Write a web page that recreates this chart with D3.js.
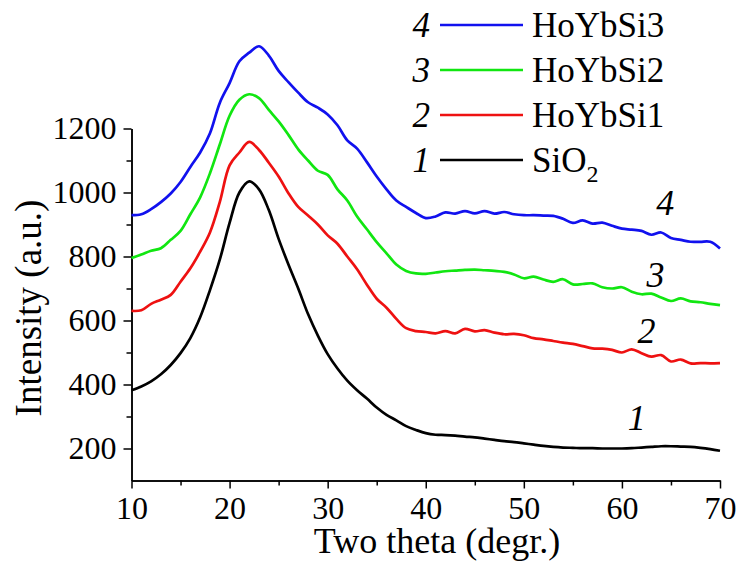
<!DOCTYPE html>
<html>
<head>
<meta charset="utf-8">
<script src="https://cdn.jsdelivr.net/npm/d3@7"></script>
<style>
body { margin: 0; background: #fff; }
svg text { font-family: "Liberation Serif", "Times New Roman", Times, serif; fill: #000; }
</style>
</head>
<body>
<div id="chart"></div>
<script>
// two theta (deg), one reading per degree
var twoTheta = [10,11,12,13,14,15,16,17,18,19,20,21,22,23,24,25,26,27,28,29,
	30,31,32,33,34,35,36,37,38,39,40,41,42,43,44,45,46,47,48,49,
	50,51,52,53,54,55,56,57,58,59,60,61,62,63,64,65,66,67,68,69,70];

// intensities (a.u.)
var sio2 = [382,394,410,432,461,498,545,610,695,790,905,1000,1035,1010,945,855,775,700,620,553,
	495,450,412,382,356,328,305,288,270,258,248,243,242,240,237,235,231,227,223,220,
	216,212,208,205,203,202,201,201,200,200,200,201,203,205,207,207,206,205,202,198,193];
var hoybsi1 = [630,632,652,665,680,721,763,815,875,970,1085,1125,1158,1133,1093,1050,998,955,928,900,
	866,840,800,760,712,668,640,605,576,567,564,560,567,560,574,566,570,562,557,558,
	554,545,541,536,531,527,520,513,512,508,500,510,498,487,492,472,478,466,467,466,467];
var hoybsi2 = [795,806,818,826,852,880,932,985,1060,1150,1240,1290,1307,1295,1258,1222,1180,1135,1100,1068,
	1055,1010,975,925,885,845,810,775,755,747,746,750,754,756,758,759,757,755,752,744,
	732,737,728,721,729,713,714,716,704,700,704,690,682,684,672,661,669,660,657,652,648];
var hoybsi3 = [929,932,948,970,997,1033,1080,1125,1185,1280,1342,1410,1437,1457,1428,1380,1345,1312,1282,1265,
	1244,1210,1163,1137,1095,1050,1010,975,955,936,920,925,938,934,942,935,942,934,939,932,
	929,929,928,927,918,905,913,903,906,896,887,884,880,868,875,858,852,846,846,846,825];

var seriesNames = ["SiO", "HoYbSi1", "HoYbSi2", "HoYbSi3"];
var seriesNums = ["1", "2", "3", "4"];
var seriesColors = ["#000000", "#ee1111", "#11e611", "#1111ee"];
var xTicks = [10, 20, 30, 40, 50, 60, 70];
var yTicks = [200, 400, 600, 800, 1000, 1200];
// where the italic numbers sit next to the curves (data units)
var labelX = [60.6, 61.6, 62.5, 63.5];
var labelY = [257, 529, 704, 929];

var allSeries = [sio2, hoybsi1, hoybsi2, hoybsi3];

var svg = d3.select("#chart").append("svg")
	.attr("width", 736)
	.attr("height", 572);

var x = d3.scaleLinear().domain([10, 70]).range([131.5, 720]);
var y = d3.scaleLinear().domain([100, 1200]).range([480.5, 128.5]);

// minor ticks first, then the labelled axes
svg.append("g")
	.attr("transform", "translate(0,480.5)")
	.call(d3.axisBottom(x).tickValues(d3.range(15, 70, 10)).tickSize(5).tickSizeOuter(0).tickFormat(""));
svg.append("g")
	.attr("transform", "translate(131.5,0)")
	.call(d3.axisLeft(y).tickValues(d3.range(300, 1200, 200)).tickSize(5).tickSizeOuter(0).tickFormat(""));

var gx = svg.append("g")
	.attr("transform", "translate(0,480.5)")
	.call(d3.axisBottom(x).tickValues(xTicks).tickSize(8).tickSizeOuter(0).tickPadding(8).tickFormat(d3.format("d")));
var gy = svg.append("g")
	.attr("transform", "translate(131.5,0)")
	.call(d3.axisLeft(y).tickValues(yTicks).tickSize(8).tickSizeOuter(0).tickPadding(7).tickFormat(d3.format("d")));

svg.selectAll("g").attr("font-family", null).attr("font-size", null);
svg.selectAll(".domain, .tick line").attr("stroke", "#000").attr("stroke-width", 1.5);
gx.selectAll("text").style("font-size", "32px");
gy.selectAll("text").style("font-size", "32px");

// axis titles
svg.append("text")
	.attr("x", 437).attr("y", 553)
	.attr("text-anchor", "middle")
	.style("font-size", "36px")
	.text("Two theta (degr.)");
svg.append("text")
	.attr("transform", "translate(41,308) rotate(-90)")
	.attr("text-anchor", "middle")
	.style("font-size", "37px")
	.text("Intensity (a.u.)");

// curves
var line = d3.line()
	.x(function(d, i) { return x(twoTheta[i]); })
	.y(function(d) { return y(d); })
	.curve(d3.curveCatmullRom.alpha(0.5));

svg.selectAll("path.curve")
	.data(allSeries)
	.enter()
	.append("path")
	.attr("class", "curve")
	.attr("fill", "none")
	.attr("stroke", function(d, i) { return seriesColors[i]; })
	.attr("stroke-width", 2.7)
	.attr("stroke-linejoin", "round")
	.attr("d", line);

// numbers next to the curves
svg.selectAll("text.clabel")
	.data(seriesNums)
	.enter()
	.append("text")
	.attr("class", "clabel")
	.attr("x", function(d, i) { return x(labelX[i]); })
	.attr("y", function(d, i) { return y(labelY[i]); })
	.style("font-size", "36px")
	.style("font-style", "italic")
	.text(function(d) { return d; });

// legend, 4 on top down to 1
var dh = 45;
var leg = svg.selectAll("g.leg")
	.data(seriesNames)
	.enter()
	.append("g")
	.attr("class", "leg")
	.attr("transform", function(d, i) { return "translate(0," + (25 + dh * (3 - i)) + ")"; });

leg.append("text")
	.attr("x", 430).attr("y", 12)
	.attr("text-anchor", "end")
	.style("font-size", "35px")
	.style("font-style", "italic")
	.text(function(d, i) { return seriesNums[i]; });
leg.append("line")
	.attr("x1", 440).attr("x2", 523)
	.attr("stroke", function(d, i) { return seriesColors[i]; })
	.attr("stroke-width", 2.7);
var lt = leg.append("text")
	.attr("x", 532).attr("y", 12)
	.style("font-size", "35px")
	.text(function(d) { return d; });
lt.filter(function(d, i) { return i == 0; })
	.append("tspan")
	.attr("dy", 10)
	.style("font-size", "24px")
	.text("2");
</script>
</body>
</html>
